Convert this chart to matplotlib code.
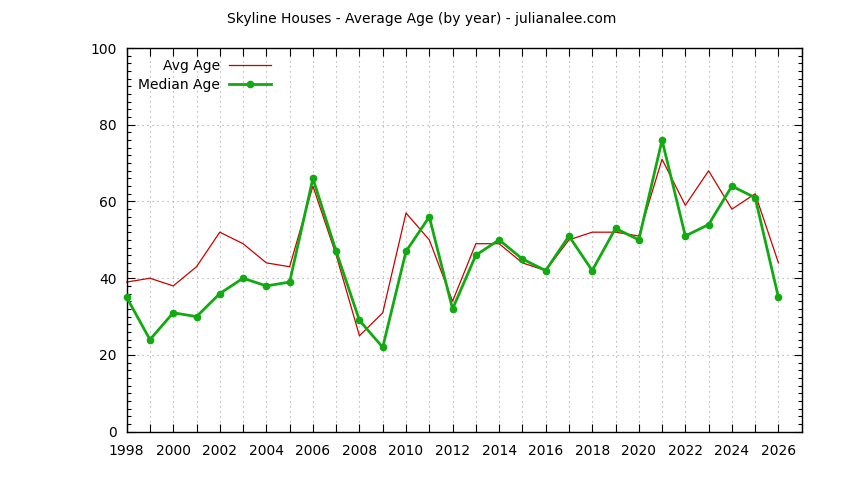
import numpy as np
import matplotlib.pyplot as plt
from matplotlib.ticker import MultipleLocator

years = list(range(1998, 2027))
avg_age = [39, 40, 38, 43, 52, 49, 44, 43, 64, 46, 25, 31, 57, 50, 34,
           49, 49, 44, 42, 50, 52, 52, 51, 71, 59, 68, 58, 62, 44]
median_age = [35, 24, 31, 30, 36, 40, 38, 39, 66, 47, 29, 22, 47, 56, 32,
              46, 50, 45, 42, 51, 42, 53, 50, 76, 51, 54, 64, 61, 35]

plt.rcParams['font.family'] = ['DejaVu Sans']
fig = plt.figure(figsize=(8.44, 4.8), dpi=100)
ax = fig.add_axes([0.1501, 0.1006, 0.7998, 0.7994])

ax.plot(years, avg_age, color='#cc0000', lw=0.9, label='Avg Age', clip_on=False)
ax.plot(years, median_age, color='#11aa11', lw=2.0, marker='o', ms=4.5,
        label='Median Age', clip_on=False, zorder=3)

ax.set_xlim(1998, 2027)
ax.set_ylim(0, 100)
ax.xaxis.set_major_locator(MultipleLocator(2))
ax.xaxis.set_minor_locator(MultipleLocator(1))
ax.yaxis.set_major_locator(MultipleLocator(20))
ax.yaxis.set_minor_locator(MultipleLocator(2))
ax.tick_params(which='both', direction='in', top=True, right=True, labelsize=10)
ax.tick_params(which='major', length=6, width=0.8)
ax.tick_params(axis='x', which='minor', length=6, width=0.8)
ax.tick_params(axis='y', which='minor', length=3, width=0.8)
ax.tick_params(axis='x', pad=9)
ax.tick_params(axis='y', pad=7)

ax.grid(True, axis='x', which='both', color='#a0a0a0', ls=(0, (1, 3.5)), lw=0.8)
ax.grid(True, axis='y', which='major', color='#a0a0a0', ls=(0, (1, 3.5)), lw=0.8)
for s in ax.spines.values():
    s.set_linewidth(1.0)

ax.legend(loc='upper left', bbox_to_anchor=(0.0, 1.0), frameon=False,
          markerfirst=False, handlelength=3.0, fontsize=10,
          borderaxespad=0.4, labelspacing=0.35, handletextpad=0.7,
          alignment='right')

fig.text(0.5, 0.96, 'Skyline Houses - Average Age (by year) - julianalee.com',
         ha='center', va='center', fontsize=10)

plt.savefig('out.png', dpi=100)
